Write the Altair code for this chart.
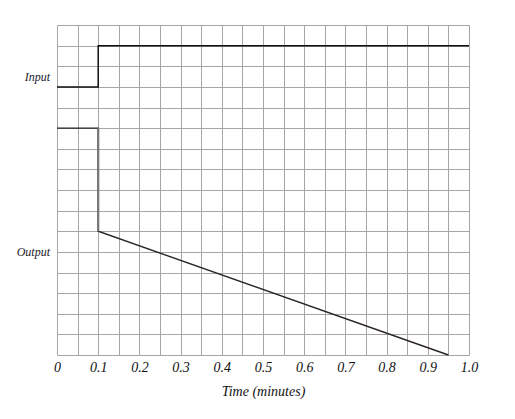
import altair as alt
import pandas as pd

# Data
input_x = [0.0, 0.1, 0.1, 1.0]
input_y = [13, 13, 15, 15]
output_x = [0.0, 0.1, 0.1, 0.95]
output_y = [11, 11, 6, 0]
label_names = ["Input", "Output"]
label_y = [13.5, 5]
x_grid = [round(i * 0.05, 2) for i in range(21)]
y_grid = list(range(17))

inp = pd.DataFrame({"x": input_x, "y": input_y, "o": range(len(input_x))})
out = pd.DataFrame({"x": output_x, "y": output_y, "o": range(len(output_x))})
vert = pd.DataFrame({"x": output_x[1:3], "y": output_y[1:3], "o": [0, 1]})
labels = pd.DataFrame({"name": label_names, "y": label_y})

FONT = "Liberation Serif"

xs = alt.Scale(domain=[0, 1], nice=False, zero=False)
ys = alt.Scale(domain=[0, 16], nice=False, zero=False)

x_axis = alt.Axis(
    values=x_grid, grid=True, gridColor="#a6a6a6", gridWidth=1, gridOpacity=1,
    domain=False, ticks=False, labelPadding=5,
    labelExpr="datum.value == 0 ? '0' : (abs(datum.value*10 - round(datum.value*10)) < 0.001 ? format(datum.value, '.1f') : '')",
    labelFont=FONT, labelFontStyle="italic", labelFontSize=14, labelColor="#111",
    title="Time (minutes)", titleFont=FONT, titleFontStyle="italic", titleFontWeight="normal",
    titleFontSize=14, titleColor="#111", titlePadding=10,
    labelOverlap=False, labelFlush=False,
)
y_axis = alt.Axis(values=y_grid, grid=True, gridColor="#a6a6a6", gridWidth=1, gridOpacity=1,
                  domain=False, ticks=False, labels=False, title=None)


def xe():
    return alt.X("x:Q", scale=xs, axis=x_axis)


def ye():
    return alt.Y("y:Q", scale=ys, axis=y_axis)


base_in = alt.Chart(inp).mark_line(color="#111", strokeWidth=1.5).encode(
    x=xe(), y=ye(), order="o:Q"
)
base_out = alt.Chart(out).mark_line(color="#2a2228", strokeWidth=1.4).encode(
    x=xe(), y=ye(), order="o:Q"
)
vert_line = alt.Chart(vert).mark_line(color="#777", strokeWidth=2.2).encode(
    x=xe(), y=ye(), order="o:Q"
)
text = alt.Chart(labels).mark_text(
    align="right", baseline="middle", font=FONT, fontStyle="italic", fontSize=12, color="#1a1a2a"
).encode(
    x=alt.value(-7), y=ye(), text="name:N"
)

chart = alt.layer(base_in, base_out, vert_line, text).properties(
    width=412, height=330,
    autosize=alt.AutoSizeParams(type="none"),
    padding={"left": 49, "top": 17, "right": 30, "bottom": 50},
).configure_view(stroke=None)

chart.save("out.html", embed_options={"renderer": "svg", "actions": False})
